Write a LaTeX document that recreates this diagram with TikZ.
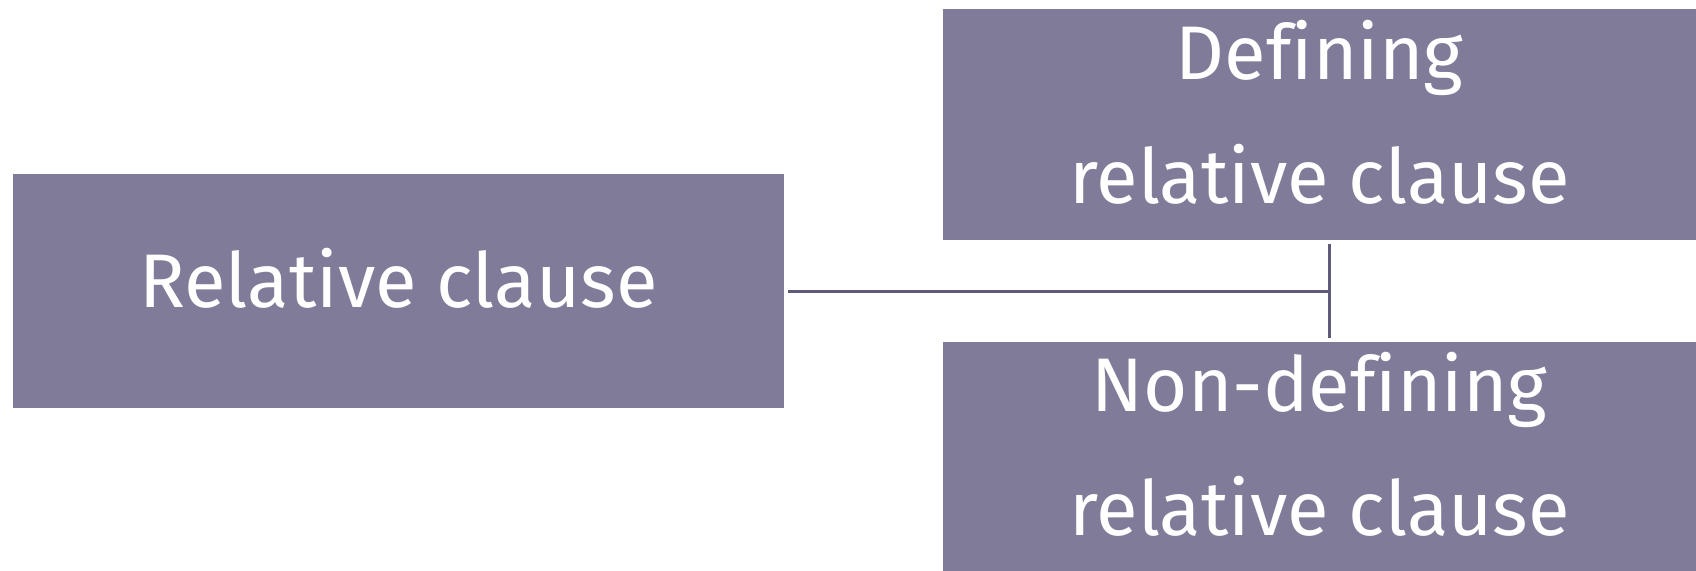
\documentclass[tikz,border=0pt]{standalone}
\usepackage{fontspec}
\setmainfont[Ligatures={TeX,CommonOff}]{Fira Sans}
\definecolor{boxfill}{HTML}{7F7B99}
\definecolor{linkline}{HTML}{5F5A7A}
\begin{document}
\begin{tikzpicture}[x=0.5pt,y=-0.5pt]
                \tikzstyle{clausebox}=[rectangle, fill=boxfill, text=white, inner sep=0pt, align=center, font=\fontsize{38}{62}\selectfont]
                \tikzstyle{link}=[draw=linkline, line width=1.5pt]
                \useasboundingbox (0,0) rectangle (1696,570);
                \node [clausebox, minimum width=385.5pt, minimum height=117pt, text height=24pt, text depth=8pt] (rc) at (398.5,291) {Relative clause};
                \node [clausebox, minimum width=376.5pt, minimum height=115.5pt, text height=80pt, text depth=1.5pt] (drc) at (1319.5,124.5) {Defining\\relative clause};
                \node [clausebox, minimum width=376.5pt, minimum height=115pt, text height=80pt, text depth=1.5pt] (ndrc) at (1319.5,457) {Non-defining\\relative clause};
                \coordinate (jn) at (1329,291);
                \draw [link] ([xshift=2pt]rc.east) -- (jn);
                \draw [link] ([yshift=-2pt]drc.south -| jn) -- ([yshift=2pt]ndrc.north -| jn);
            \end{tikzpicture}
\end{document}
